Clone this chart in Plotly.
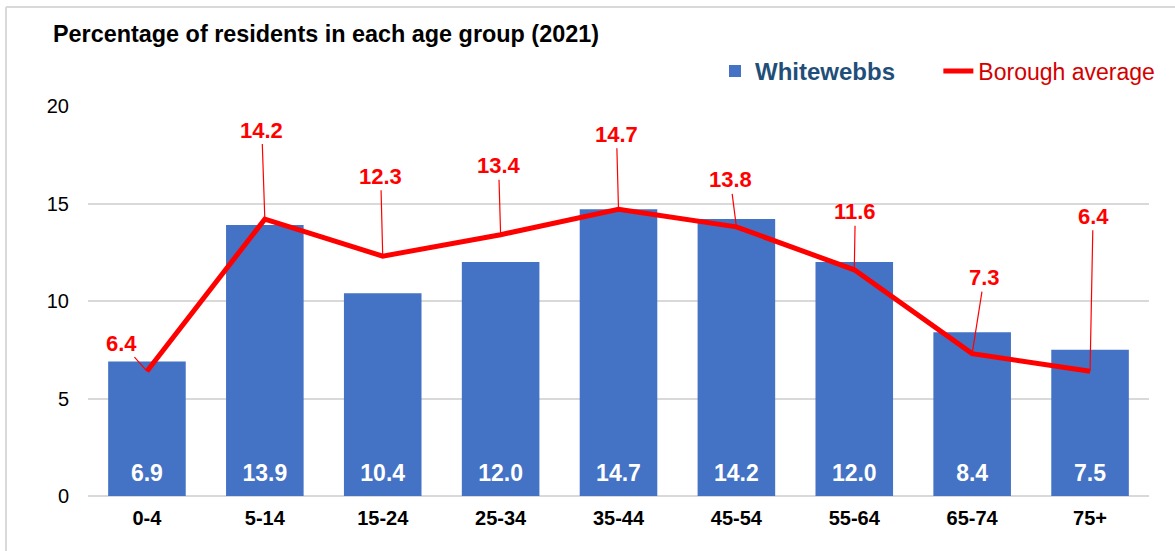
import plotly.graph_objects as go

categories = ["0-4", "5-14", "15-24", "25-34", "35-44", "45-54", "55-64", "65-74", "75+"]
whitewebbs = [6.9, 13.9, 10.4, 12.0, 14.7, 14.2, 12.0, 8.4, 7.5]
borough = [6.4, 14.2, 12.3, 13.4, 14.7, 13.8, 11.6, 7.3, 6.4]
y_ticks = [0, 5, 10, 15, 20]

# label offsets (pixels) for the borough labels
label_dx = [-25, -3, -2, -2, -2, -6, 1, 12, 3]
label_dy = [-28, -89, -80, -69, -75, -47, -58, -76, -155]
bar_label_level = 1.05

FONT = "Arial, Liberation Sans, sans-serif"
BLUE = "#4472C4"
RED = "#FF0000"
NBSP = "\u00a0"

fig = go.Figure()
fig.add_trace(go.Bar(
    x=categories, y=whitewebbs,
    name="<span style='color:#1F4E79;font-size:24px'><b>Whitewebbs</b></span>" + NBSP * 6,
    marker=dict(color=BLUE, line=dict(width=0)), hoverinfo="x+y",
))
fig.add_trace(go.Scatter(
    x=categories, y=[bar_label_level] * len(categories), mode="text",
    text=[f"<b>{v:.1f}</b>" for v in whitewebbs],
    textfont=dict(color="white", size=23, family=FONT), showlegend=False, hoverinfo="skip",
))
fig.add_trace(go.Scatter(
    x=categories, y=borough, mode="lines",
    name="<span style='color:#D40000'>Borough average</span>",
    line=dict(color=RED, width=5),
))

for c, v, dx, dy in zip(categories, borough, label_dx, label_dy):
    fig.add_annotation(
        x=c, y=v, text=f"<b>{v:.1f}</b>", showarrow=True, arrowhead=0, arrowwidth=1.2,
        arrowcolor=RED, ax=dx, ay=dy, font=dict(color=RED, size=22, family=FONT),
        standoff=0, startstandoff=0,
    )

# white cover over the top gridline behind the legend area
fig.add_shape(type="rect", xref="paper", yref="y", x0=(665 - 88) / 1061, x1=1.01, y0=19.85, y1=20.15,
              fillcolor="white", line=dict(width=0), layer="above")
# chart frame (left and top)
fig.add_shape(type="line", xref="paper", yref="paper", x0=(6 - 88) / 1061, x1=(6 - 88) / 1061,
              y0=(496 - 7) / 390, y1=-0.2, line=dict(color="#D9D9D9", width=2))
fig.add_shape(type="line", xref="paper", yref="paper", x0=(6 - 88) / 1061, x1=1.03,
              y0=(496 - 7) / 390, y1=(496 - 7) / 390, line=dict(color="#D9D9D9", width=2))

fig.update_layout(
    width=1175, height=551,
    margin=dict(l=88, r=26, t=106, b=55),
    paper_bgcolor="white", plot_bgcolor="white",
    font=dict(family=FONT, color="#000000", size=20),
    bargap=0.342,
    title=dict(text="<b>Percentage of residents in each age group (2021)</b>",
               xref="container", yref="container", x=53 / 1175, y=1 - 34 / 551,
               xanchor="left", yanchor="middle", font=dict(size=23.4, color="#000000", family=FONT)),
    legend=dict(orientation="h", xref="paper", yref="paper", x=(1160 - 88) / 1061, y=(496 - 71) / 390,
                xanchor="right", yanchor="middle", font=dict(size=23, family=FONT, color="#000000"),
                bgcolor="rgba(0,0,0,0)", traceorder="normal"),
    showlegend=True,
)
fig.update_xaxes(showgrid=False, showline=False, ticks="", tickfont=dict(size=20, family=FONT, color="#000000"),
                 ticklabelstandoff=8, tickprefix="<b>", ticksuffix="</b>")
fig.update_yaxes(range=[0, 20], tickvals=y_ticks, showgrid=True, gridcolor="#D9D9D9", gridwidth=2,
                 zeroline=True, zerolinecolor="#D9D9D9", zerolinewidth=2, showline=False, ticks="",
                 tickfont=dict(size=20, family=FONT, color="#000000"), ticklabelstandoff=18)

fig.write_html("out.html", config={"displayModeBar": False},
               post_script="document.body.style.margin='0';document.body.style.overflow='hidden';")
